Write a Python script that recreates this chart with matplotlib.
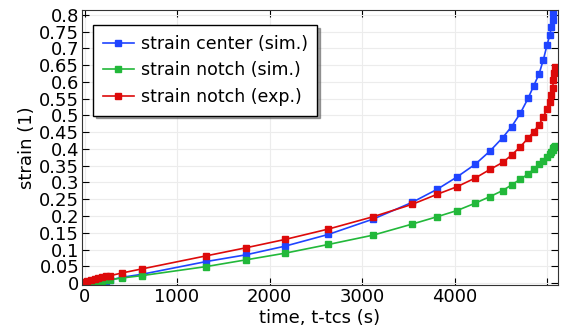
import matplotlib.pyplot as plt

# Zeitpunkte (s) und Dehnungswerte
zeit = [0, 30, 70, 110, 150, 190, 230, 280, 405, 620, 1315, 1743, 2168, 2636,
        3122, 3544, 3814, 4024, 4222, 4384, 4521, 4618, 4712, 4795, 4855,
        4914, 4960, 5000, 5030, 5048, 5060, 5070, 5078, 5084]

dehnung_mitte_sim = [0.0, 0.001, 0.002, 0.004, 0.005, 0.006, 0.007, 0.009,
                     0.017, 0.026, 0.064, 0.084, 0.110, 0.145, 0.191, 0.241,
                     0.280, 0.316, 0.354, 0.394, 0.434, 0.467, 0.507, 0.551,
                     0.588, 0.624, 0.666, 0.710, 0.740, 0.765, 0.785, 0.805,
                     0.830, 0.850]

dehnung_kerbe_sim = [0.0, 0.001, 0.003, 0.004, 0.006, 0.007, 0.008, 0.010,
                     0.015, 0.022, 0.049, 0.069, 0.089, 0.115, 0.143, 0.176,
                     0.198, 0.216, 0.238, 0.258, 0.276, 0.293, 0.310, 0.325,
                     0.340, 0.354, 0.365, 0.375, 0.385, 0.392, 0.398, 0.403,
                     0.407, 0.409]

dehnung_kerbe_exp = [0.003, 0.006, 0.009, 0.012, 0.015, 0.017, 0.020, 0.022,
                     0.030, 0.042, 0.081, 0.105, 0.130, 0.161, 0.198, 0.235,
                     0.265, 0.287, 0.313, 0.339, 0.360, 0.382, 0.407, 0.432,
                     0.452, 0.472, 0.496, 0.519, 0.541, 0.561, 0.581, 0.606,
                     0.626, 0.646]

labels = ['strain center (sim.)', 'strain notch (sim.)', 'strain notch (exp.)']
farben = ['#1f44ff', '#22b83a', '#dd0a0a']

y_ticks = [i * 0.05 for i in range(17)]
y_labels = ['0', '0.05', '0.1', '0.15', '0.2', '0.25', '0.3', '0.35', '0.4',
            '0.45', '0.5', '0.55', '0.6', '0.65', '0.7', '0.75', '0.8']
x_ticks = [0, 1000, 2000, 3000, 4000, 5000]
x_labels = ['0', '1000', '2000', '3000', '4000', '']

fig = plt.figure(figsize=(5.64, 3.29), dpi=100)
ax = fig.add_axes([0.1454, 0.1337, 0.844, 0.836])

for werte, label, farbe in zip([dehnung_mitte_sim, dehnung_kerbe_sim, dehnung_kerbe_exp], labels, farben):
    ax.plot(zeit, werte, color=farbe, marker='s', markersize=4.5, linewidth=1.2, label=label)

ax.set_xlim(-27, 5119)
ax.set_ylim(-0.006, 0.815)
ax.set_xticks(x_ticks)
ax.set_xticklabels(x_labels)
ax.set_yticks(y_ticks)
ax.set_yticklabels(y_labels)
ax.tick_params(direction='in', top=True, right=True, labelsize=13, length=5, pad=2)
ax.grid(True, color='#ececec', linewidth=0.8)
ax.set_axisbelow(True)
for s in ax.spines.values():
    s.set_color('#333333')

ax.set_xlabel('time, t-tcs (s)', fontsize=13, labelpad=2)
ax.set_ylabel('strain (1)', fontsize=13, labelpad=2)

leg = ax.legend(loc='upper left', bbox_to_anchor=(0.023, 0.945), fontsize=12.5,
                fancybox=False, shadow=True, edgecolor='black', framealpha=1,
                borderaxespad=0, handlelength=1.8, handletextpad=0.4,
                labelspacing=0.5, borderpad=0.55)
leg.get_frame().set_linewidth(1.0)

fig.savefig('out.png', dpi=100)
